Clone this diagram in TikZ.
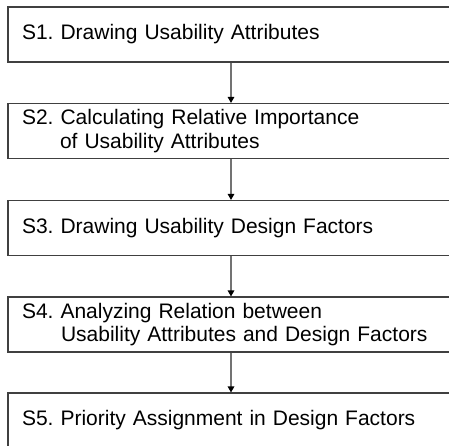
\documentclass[tikz,border=0pt]{standalone}
\usepackage{fontspec}
\setmainfont{Liberation Sans}
\usetikzlibrary{arrows.meta,positioning}
\frenchspacing

\begin{document}
\begin{tikzpicture}[x=1pt, y=-1pt, >=Latex,
    stepbox/.style={draw=black!75, line width=1.1pt, anchor=center, align=left,
      minimum width=446pt, text width=418pt, inner xsep=14pt, minimum height=55pt,
      font=\fontsize{21}{23.5}\selectfont},
    flow/.style={->, draw=black!55, line width=1.3pt, -{Triangle[length=6pt, width=6.5pt, black]}}]
    \useasboundingbox[clip] (0,0) rectangle (449,446);
    \node[stepbox] (s1) at (231,34.5) {S1. Drawing Usability Attributes};
    \node[stepbox] (s2) at (231,131) {S2. Calculating Relative Importance\\\hspace*{38pt}of Usability Attributes};
    \node[stepbox] (s3) at (231,228) {S3. Drawing Usability Design Factors};
    \node[stepbox] (s4) at (231,324.5) {S4. Analyzing Relation between\\\hspace*{39pt}Usability Attributes and Design Factors};
    \node[stepbox] (s5) at (231,420.5) {S5. Priority Assignment in Design Factors};

    \draw[flow] (s1) -- (s2);
    \draw[flow] (s2) -- (s3);
    \draw[flow] (s3) -- (s4);
    \draw[flow] (s4) -- (s5);
  \end{tikzpicture}
\end{document}
